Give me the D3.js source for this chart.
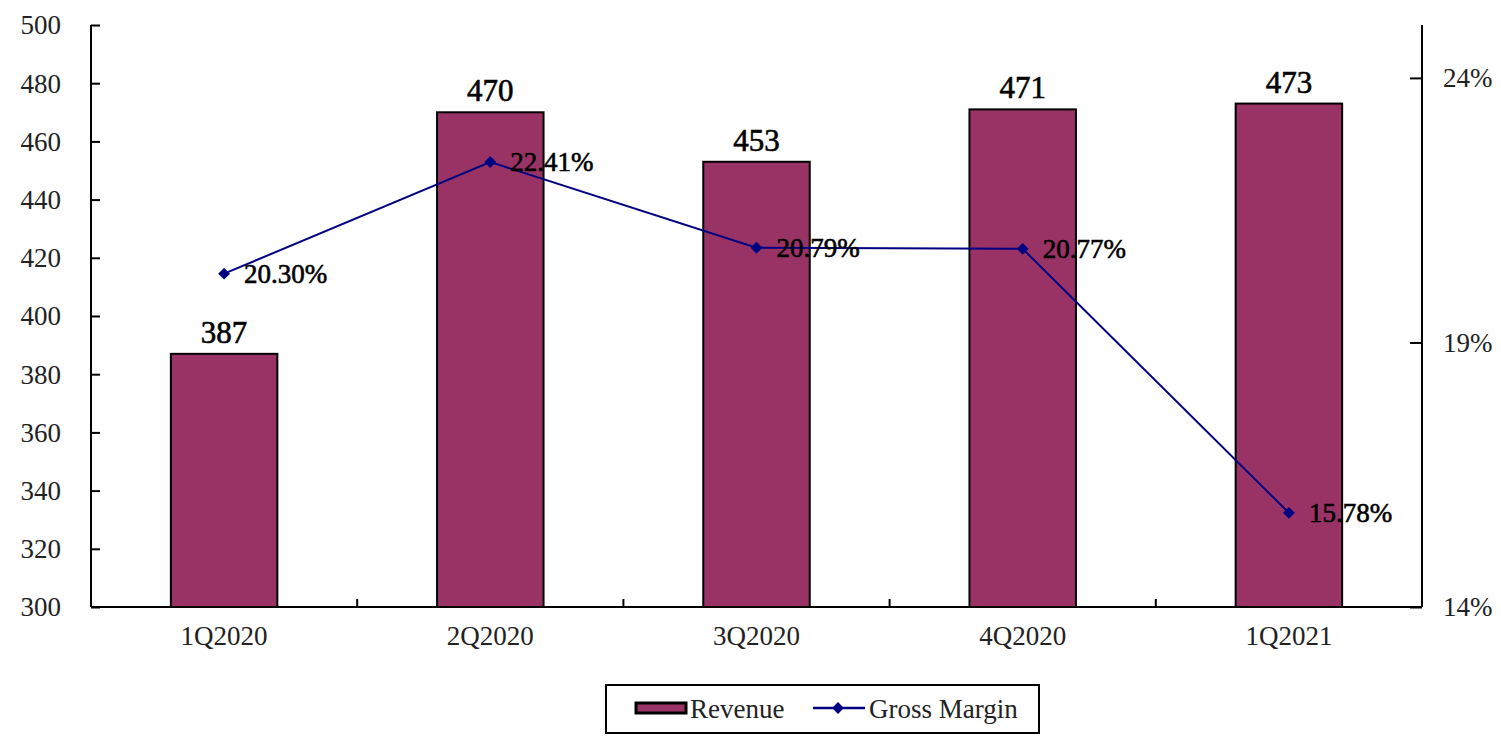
<!DOCTYPE html>
<html><head><meta charset="utf-8">
<script src="https://cdn.jsdelivr.net/npm/d3@7"></script>
<style>body{margin:0;background:#fff}svg{display:block}text{font-family:"Liberation Serif","DejaVu Serif",serif}</style>
</head><body><svg id="c" width="1501" height="737"></svg>
<script>
const categories = ["1Q2020","2Q2020","3Q2020","4Q2020","1Q2021"];
const revenue = [387, 470, 453, 471, 473];
const grossMargin = [20.30, 22.41, 20.79, 20.77, 15.78];
const leftTicks = [300,320,340,360,380,400,420,440,460,480,500];
const rightTicks = [14,19,24];

const svg = d3.select("#c");
const L = 91, R = 1422, T = 25, B = 607;
const x = d3.scaleBand().domain(categories).range([L,R]).paddingInner(0.6).paddingOuter(0.3);
const xb = d3.scaleBand().domain(categories).range([L,R]);
const yL = d3.scaleLinear().domain([300,500]).range([B,T]);
const yR = d3.scaleLinear().domain([14,25]).range([B,T]);
const tickFont = 27;

// bars
svg.selectAll("rect.bar").data(revenue).enter().append("rect")
  .attr("x",(d,i)=>x(categories[i])).attr("width",x.bandwidth())
  .attr("y",d=>yL(d)).attr("height",d=>B-yL(d))
  .attr("fill","#993366").attr("stroke","#000").attr("stroke-width",2);
svg.selectAll("text.bl").data(revenue).enter().append("text")
  .attr("x",(d,i)=>x(categories[i])+x.bandwidth()/2).attr("y",d=>yL(d)-11)
  .attr("text-anchor","middle").attr("font-size",31).attr("fill","#000")
  .attr("stroke","#000").attr("stroke-width",0.6)
  .text(d=>d);

// axes
const gl = svg.append("g").attr("transform",`translate(${L},0)`)
  .call(d3.axisRight(yL).tickValues(leftTicks).tickSize(9).tickFormat(""));
gl.select(".domain").remove();
svg.append("line").attr("x1",L).attr("x2",L).attr("y1",T).attr("y2",B).attr("stroke","#000").attr("stroke-width",2);
gl.selectAll("line").attr("stroke","#000").attr("stroke-width",2);
svg.selectAll("text.lt").data(leftTicks).enter().append("text")
  .attr("x",61).attr("y",d=>yL(d)).attr("dy","0.35em").attr("text-anchor","end")
  .attr("font-size",tickFont).attr("fill","#222").text(d=>d);

const gr = svg.append("g").attr("transform",`translate(${R},0)`)
  .call(d3.axisLeft(yR).tickValues(rightTicks).tickSize(12).tickFormat(""));
gr.select(".domain").remove();
gr.selectAll("line").attr("stroke","#000").attr("stroke-width",2);
svg.append("line").attr("x1",R).attr("x2",R).attr("y1",T).attr("y2",B).attr("stroke","#000").attr("stroke-width",2);
svg.selectAll("text.rt").data(rightTicks).enter().append("text")
  .attr("x",1443).attr("y",d=>yR(d)).attr("dy","0.35em").attr("text-anchor","start")
  .attr("font-size",tickFont).attr("fill","#222").text(d=>d+"%");

// x axis
svg.append("line").attr("x1",L).attr("x2",R).attr("y1",B).attr("y2",B).attr("stroke","#000").attr("stroke-width",2);
svg.selectAll("line.xt").data(categories.slice(1)).enter().append("line")
  .attr("x1",d=>xb(d)).attr("x2",d=>xb(d)).attr("y1",B).attr("y2",B-8).attr("stroke","#000").attr("stroke-width",2);
svg.selectAll("text.xl").data(categories).enter().append("text")
  .attr("x",d=>xb(d)+xb.bandwidth()/2).attr("y",636).attr("dy","0.35em").attr("text-anchor","middle")
  .attr("font-size",tickFont).attr("fill","#222").text(d=>d);

// line
const cx = i => xb(categories[i])+xb.bandwidth()/2;
const line = d3.line().x((d,i)=>cx(i)).y(d=>yR(d));
svg.append("path").datum(grossMargin).attr("d",line).attr("fill","none").attr("stroke","#000080").attr("stroke-width",2);
const diamond = d3.symbol().type(d3.symbolSquare).size(70);
svg.selectAll("path.m").data(grossMargin).enter().append("path")
  .attr("d",diamond).attr("transform",(d,i)=>`translate(${cx(i)},${yR(d)}) rotate(45)`).attr("fill","#000080");
svg.selectAll("text.ml").data(grossMargin).enter().append("text")
  .attr("x",(d,i)=>cx(i)+20).attr("y",d=>yR(d)).attr("dy","0.35em")
  .attr("font-size",27).attr("fill","#000").attr("stroke","#000").attr("stroke-width",0.6)
  .text(d=>d.toFixed(2)+"%");

// legend
const lg = svg.append("g");
lg.append("rect").attr("x",606).attr("y",685).attr("width",433).attr("height",48).attr("fill","#fff").attr("stroke","#000").attr("stroke-width",2);
lg.append("rect").attr("x",636).attr("y",703).attr("width",50).attr("height",10).attr("fill","#993366").attr("stroke","#000").attr("stroke-width",3);
lg.append("text").attr("x",690).attr("y",709).attr("dy","0.35em").attr("font-size",tickFont).attr("fill","#222").text("Revenue");
lg.append("line").attr("x1",813).attr("x2",865).attr("y1",708).attr("y2",708).attr("stroke","#000080").attr("stroke-width",2.5);
lg.append("path").attr("d",diamond).attr("transform","translate(838,708) rotate(45)").attr("fill","#000080");
lg.append("text").attr("x",869).attr("y",709).attr("dy","0.35em").attr("font-size",tickFont).attr("fill","#222").text("Gross Margin");
</script></body></html>
